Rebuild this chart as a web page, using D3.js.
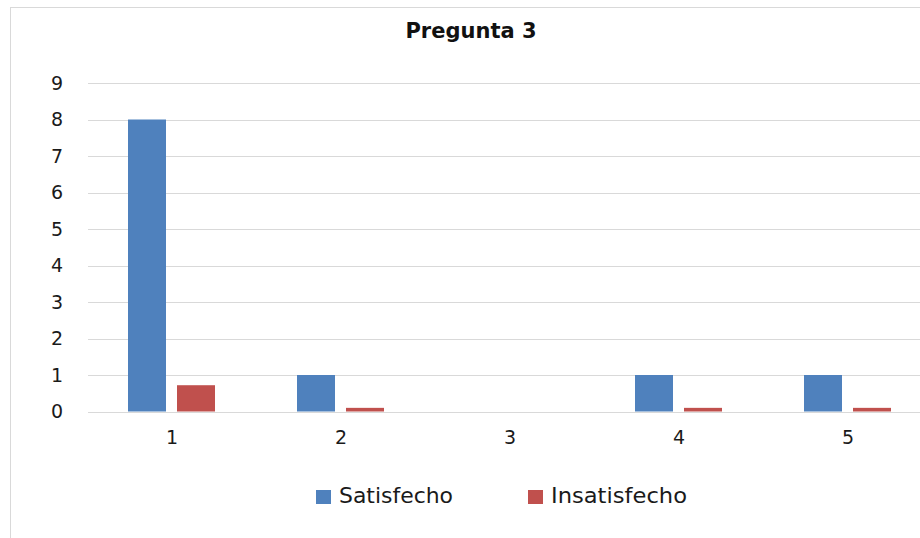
<!DOCTYPE html>
<html>
<head>
<meta charset="utf-8">
<script src="https://cdn.jsdelivr.net/npm/d3@7"></script>
<style>
  body { margin: 0; background: #fff; }
  svg { display: block; }
</style>
</head>
<body>
<svg width="920" height="538"></svg>
<script>
var categories = ['1', '2', '3', '4', '5']
var series = ['Satisfecho', 'Insatisfecho']
var satisfecho = [8, 1, 0, 1, 1]
var insatisfecho = [0.72, 0.1, 0, 0.1, 0.1]
var yTicks = [0, 1, 2, 3, 4, 5, 6, 7, 8, 9]
var colors = ['#4f81bd', '#c0504d']

var svg = d3.select('svg')

// marco del grafico (se sale por la derecha y abajo)
svg.append('rect')
   .attr('x', 10.5).attr('y', 7.5)
   .attr('width', 922).attr('height', 540)
   .attr('fill', '#fff')
   .attr('stroke', '#d9d9d9')

var x = d3.scaleBand().domain(categories).range([88, 933])
var xs = d3.scaleBand().domain(series).range([40, 127]).paddingInner(0.2245)
var y = d3.scaleLinear().domain([0, 9]).range([411.5, 83])

// griglia
svg.append('g')
   .selectAll('line')
   .data(yTicks)
   .enter()
   .append('line')
   .attr('x1', 88).attr('x2', 933)
   .attr('y1', function(d) { return Math.round(y(d)) + 0.5 })
   .attr('y2', function(d) { return Math.round(y(d)) + 0.5 })
   .attr('stroke', '#d9d9d9')
   .attr('stroke-width', 1)

// etichette asse y
svg.append('g')
   .selectAll('text')
   .data(yTicks)
   .enter()
   .append('text')
   .attr('x', 63)
   .attr('y', function(d) { return y(d) })
   .attr('dy', '0.36em')
   .attr('text-anchor', 'end')
   .attr('font-family', 'DejaVu Sans')
   .attr('font-size', 19)
   .attr('fill', '#1a1a1a')
   .text(function(d) { return d })

// etichette asse x
svg.append('g')
   .selectAll('text')
   .data(categories)
   .enter()
   .append('text')
   .attr('x', function(d) { return x(d) + x.bandwidth() / 2 - 0.5 })
   .attr('y', 444)
   .attr('text-anchor', 'middle')
   .attr('font-family', 'DejaVu Sans')
   .attr('font-size', 19)
   .attr('fill', '#1a1a1a')
   .text(function(d) { return d })

var table = categories.map(function(c, i) {
  return { cat: c, values: [satisfecho[i], insatisfecho[i]] }
})

var groups = svg.append('g')
   .selectAll('g')
   .data(table)
   .enter()
   .append('g')
   .attr('transform', function(d) { return 'translate(' + x(d.cat) + ',0)' })

groups.selectAll('rect')
   .data(function(d) { return d.values.map(function(v, j) { return { s: series[j], v: v, j: j } }) })
   .enter()
   .append('rect')
   .attr('x', function(d) { return xs(d.s) })
   .attr('width', xs.bandwidth())
   .attr('y', function(d) { return y(d.v) })
   .attr('height', function(d) { return y(0) - y(d.v) })
   .attr('fill', function(d) { return colors[d.j] })

// titulo
svg.append('text')
   .attr('x', 471).attr('y', 38)
   .attr('text-anchor', 'middle')
   .attr('font-family', 'DejaVu Sans')
   .attr('font-weight', 'bold')
   .attr('font-size', 21)
   .attr('fill', '#111')
   .text('Pregunta 3')

// leyenda
var legendX = [316, 528]
var legendW = [114, 136]
var legend = svg.append('g')
   .selectAll('g')
   .data(series)
   .enter()
   .append('g')
   .attr('transform', function(d, i) { return 'translate(' + legendX[i] + ',490)' })

legend.append('rect')
   .attr('width', 15).attr('height', 14)
   .attr('fill', function(d, i) { return colors[i] })

legend.append('text')
   .attr('x', 23).attr('y', 13)
   .attr('font-family', 'DejaVu Sans')
   .attr('font-size', 21)
   .attr('textLength', function(d, i) { return legendW[i] })
   .attr('lengthAdjust', 'spacingAndGlyphs')
   .attr('fill', '#1a1a1a')
   .text(function(d) { return d })
</script>
</body>
</html>
